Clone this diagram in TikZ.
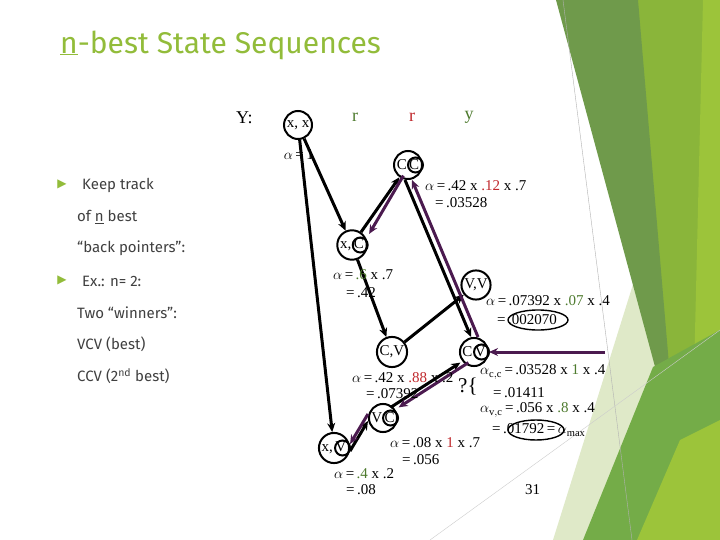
\documentclass[tikz,border=0pt]{standalone}
\usepackage{fontspec}
\setmainfont{Liberation Serif}
\newfontfamily\sans{Fira Sans}
\newfontfamily\dv{DejaVu Sans}
\usetikzlibrary{arrows.meta}
\definecolor{tgreen}{HTML}{92BC3A}
\definecolor{dgreen}{HTML}{6F9A4B}
\definecolor{lgreen}{HTML}{8AB53A}
\definecolor{bgreen}{HTML}{9CC43A}
\definecolor{pgreen}{HTML}{DFE9C8}
\definecolor{mgreen}{HTML}{74AC48}
\definecolor{vgreen}{HTML}{4E7B2E}
\definecolor{vred}{HTML}{C0282C}
\definecolor{purp}{HTML}{4B1A4F}
\definecolor{gtxt}{HTML}{404040}
\begin{document}
\begin{tikzpicture}[x=1pt,y=-1pt,
  st/.style={circle,draw,line width=2pt,inner sep=1pt,minimum size=28pt,font=\fontsize{15}{15}\selectfont},
  blk/.style={line width=3pt,-{Stealth[length=9pt,width=8pt]}},
  pur/.style={line width=3pt,purp,-{Stealth[length=9pt,width=8pt]}},
  lab/.style={anchor=west,inner sep=0pt,font=\fontsize{15}{15}\selectfont},
  lt/.style={anchor=west,inner sep=0pt,text=gtxt,font=\sans\fontsize{15}{15}\selectfont}]
\useasboundingbox (0,0) rectangle (720,540);
\fill[white] (0,0) rectangle (720,540);
% decoration
\fill[lgreen] (636,0) -- (720,0) -- (720,540) -- (637,540) -- (670,400) -- cycle;
\fill[bgreen] (703,0) -- (720,0) -- (720,540) -- (690,540) -- cycle;
\fill[pgreen] (640,262) -- (662,372) -- (583,540) -- (553,540) -- cycle;
\fill[dgreen] (556,0) -- (638,0) -- (672,400) -- (664,400) -- cycle;
\fill[mgreen] (583,540) -- (653,367) -- (720,330) -- (720,540) -- cycle;
\fill[bgreen] (637,540) -- (680,440) -- (720,420) -- (720,540) -- cycle;
\draw[gray!60,line width=0.4pt] (563,0) -- (632,540);
\draw[gray!40,line width=0.4pt] (430,540) -- (720,330);
% title and left text
\node[anchor=west,inner sep=0pt,text=tgreen,font=\sans\fontsize{30}{30}\selectfont] (title) at (60,45) {\underline{n}-best State Sequences};
\node[text=tgreen,font=\dv\fontsize{12}{12}\selectfont,inner sep=0pt] (b1) at (62,184) {▶};
\node[lt] (t1) at (82,185) {Keep track};
\node[lt] (t2) at (77,217) {of \underline{n} best};
\node[lt] (t3) at (77,248) {“back pointers”:};
\node[text=tgreen,font=\dv\fontsize{12}{12}\selectfont,inner sep=0pt] (b2) at (62,280) {▶};
\node[lt] (t4) at (82,281) {Ex.: n= 2:};
\node[lt] (t5) at (77,313) {Two “winners”:};
\node[lt] (t6) at (77,344) {VCV (best)};
\node[lt] (t7) at (77,376) {CCV (2\textsuperscript{nd} best)};
% header
\node[lab,font=\fontsize{18}{18}\selectfont] (Y) at (236,118) {Y:};
\node[text=vgreen,font=\fontsize{18}{18}\selectfont] (r1) at (355,117) {r};
\node[text=vred,font=\fontsize{18}{18}\selectfont] (r2) at (412,117) {r};
\node[text=vgreen,font=\fontsize{18}{18}\selectfont] (y) at (469,117) {y};
% states
\node[st] (xx) at (298,125) {x, x};
\node[st] (CC) at (408,165) {C\,C};
\node[st] (xC) at (352,245) {x,\,C};
\node[st] (VV) at (476,285) {V,V};
\node[st] (CV) at (392,352) {C,V};
\node[st] (CV2) at (474,352) {C\,V};
\node[st] (VC) at (383,418) {V\,C};
\node[st] (xV) at (334,448) {x,\,V};
\foreach \n in {CC,xC,CV2,VC,xV}{\draw[line width=2pt] ([xshift=-7.5pt]\n.east) circle (7.5pt);}
% black arrows
\draw[blk] (xx) -- (xC);
\draw[blk] (xx) -- (xV);
\draw[blk] (xC) -- (CC);
\draw[blk] (xC) -- (CV);
\draw[blk] ([xshift=-3pt]CC.south) -- ([xshift=-3pt]CV2.north);
\draw[blk] (CV) -- (VV);
\draw[blk] ([yshift=-3pt]xV.east) -- ([yshift=-3pt]VC.west);
\draw[blk] ([xshift=-3pt]VC.north east) -- ([xshift=-3pt]CV2.south west);
% purple back pointers
\draw[pur] ([xshift=6pt]CC.south west) -- ([xshift=6pt]xC.north east);
\draw[pur] ([xshift=4pt]CV2.north) -- ([xshift=4pt]CC.south);
\draw[pur] ([xshift=5pt]CV2.south west) -- ([xshift=5pt]VC.north east);
\draw[pur] ([yshift=4pt]VC.west) -- ([yshift=4pt]xV.east);
\coordinate (pr) at (605,352);
\draw[pur] (pr) -- (CV2);
% labels
\node[lab,anchor=east] (a0) at (314,155) {$\alpha$\,=\,1};
\node[lab] (a1) at (425,186) {$\alpha$\,=\,.42 x \textcolor{vred}{.12} x .7};
\node[lab] (a1b) at (435,203) {=\,.03528};
\node[lab] (a2) at (333,275) {$\alpha$\,=\,\textcolor{vgreen}{.6} x .7};
\node[lab] (a2b) at (346,293) {=\,.42};
\node[lab] (a3) at (486,301) {$\alpha$\,=\,.07392 x \textcolor{vgreen}{.07} x .4};
\node[lab] (a3b) at (497,320) {=\,.002070};
\draw[line width=1.4pt] (538,320) ellipse (30pt and 10pt);
\node[lab] (a4) at (352,378) {$\alpha$\,=\,.42 x \textcolor{vred}{.88} x .2};
\node[lab] (a4b) at (366,394) {=\,.07392};
\node[lab] (a5) at (480,372) {$\alpha_{\mathrm{c,c}}$\,=\,.03528 x \textcolor{vgreen}{1} x .4};
\node[lab,font=\fontsize{21}{21}\selectfont] (q) at (458,387) {?\{};
\node[lab] (a5b) at (493,393) {=\,.01411};
\node[lab] (a6) at (480,410) {$\alpha_{\mathrm{v,c}}$\,=\,.056 x \textcolor{vgreen}{.8} x .4};
\node[lab] (a6b) at (492,430) {=\,.01792\,=\,$\alpha_{\mathrm{max}}$};
\draw[line width=1.4pt] (536,430) ellipse (28pt and 10pt);
\node[lab] (a7) at (390,443) {$\alpha$\,=\,.08 x \textcolor{vred}{1} x .7};
\node[lab] (a7b) at (402,460) {=\,.056};
\node[lab] (a8) at (334,474) {$\alpha$\,=\,\textcolor{vgreen}{.4} x .2};
\node[lab] (a8b) at (346,490) {=\,.08};
\node[lab] (pg) at (525,490) {31};
\end{tikzpicture}
\end{document}
